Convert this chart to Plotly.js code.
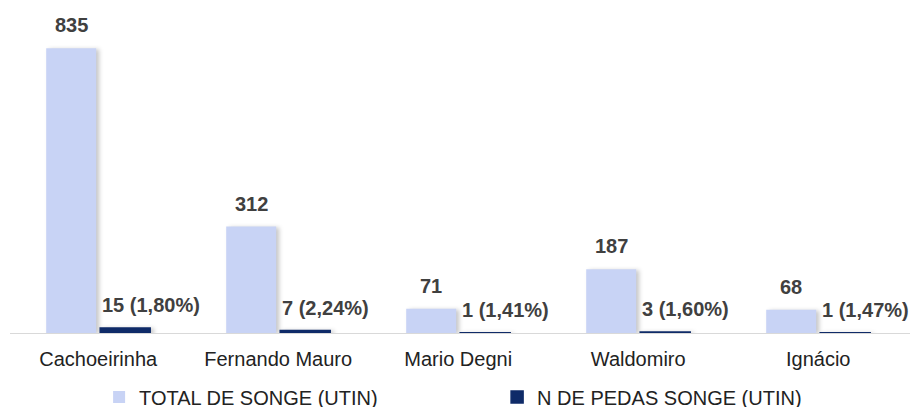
<!DOCTYPE html>
<html><head><meta charset="utf-8">
<script src="https://cdn.plot.ly/plotly-3.0.1.min.js"></script>
<style>
html,body{margin:0;background:#fff;overflow:hidden}
#c{width:924px;height:430px}
.barlayer .point path{filter:drop-shadow(3px 1px 2px rgba(0,0,0,0.22))}
</style>
</head><body><div id="c"></div>
<script>
const categories = ["Cachoeirinha","Fernando Mauro","Mario Degni","Waldomiro","Ignácio"];
const totalSonge = [835,312,71,187,68];
const pedasSonge = [15,7,1,3,1];
const pedasPct = ["1,80%","2,24%","1,41%","1,60%","1,47%"];
const seriesNames = ["TOTAL DE SONGE (UTIN)","N DE PEDAS SONGE (UTIN)"];

const idx = categories.map((_, i) => i);
const groupGap = 0.074;
const slot = 0.3;
const labelFont = {family:"Liberation Sans, Arial", size:20, color:"#404040"};
const ann = [];
idx.forEach(i => {
  ann.push({x: i - slot/2, y: totalSonge[i], text: "<b>"+totalSonge[i]+"</b>", showarrow:false,
    yanchor:"bottom", yshift: 10, font: labelFont});
  ann.push({x: i + slot*groupGap/2, y: pedasSonge[i], text: "<b>"+pedasSonge[i]+" ("+pedasPct[i]+")</b>", showarrow:false,
    xanchor:"left", yanchor:"bottom", yshift: 10, font: labelFont});
});

const data = [
  {type:"bar", name:seriesNames[0], x:idx, y:totalSonge, marker:{color:"#c8d3f5"}},
  {type:"bar", name:seriesNames[1], x:idx, y:pedasSonge, marker:{color:"#0f2b68", line:{color:"#0f2b68", width:1.5}}}
];
const layout = {
  width:924, height:430,
  margin:{l:10, r:14, t:10, b:97},
  paper_bgcolor:"#fff", plot_bgcolor:"#fff",
  barmode:"group", bargap:0.4, bargroupgap:groupGap,
  font:{family:"Liberation Sans, Arial", color:"#222"},
  xaxis:{tickmode:"array", tickvals:idx, ticktext:categories, range:[-0.49,4.51],
    showline:true, linecolor:"#d9d9d9", linewidth:1, showgrid:false, zeroline:false,
    ticks:"", tickfont:{size:20, color:"#222"}, ticklabelstandoff:8},
  yaxis:{range:[0,947], visible:false, showgrid:false, zeroline:false},
  showlegend:true,
  legend:{orientation:"h", x:0.099, xanchor:"left", y:-0.198, yanchor:"middle",
    entrywidth:353, entrywidthmode:"pixels", font:{size:20, color:"#222"}, itemclick:false},
  annotations: ann
};
Plotly.newPlot("c", data, layout, {displayModeBar:false, staticPlot:true});
</script></body></html>
